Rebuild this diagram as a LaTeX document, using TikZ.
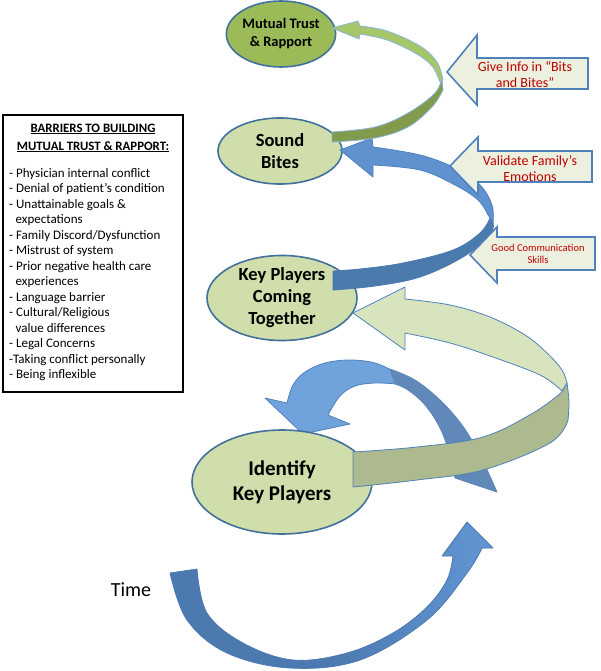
\documentclass[tikz,border=0pt]{standalone}
\usepackage{fontspec}
\setmainfont{Carlito}
\usetikzlibrary{shapes.geometric}
\definecolor{stageedge}{RGB}{65,113,156}
\definecolor{stagefill}{RGB}{207,222,170}
\definecolor{trustfill}{RGB}{155,187,89}
\definecolor{tipfill}{RGB}{235,241,222}
\definecolor{tipedge}{RGB}{79,129,189}
\definecolor{tipred}{RGB}{192,0,0}
\definecolor{bandlight}{RGB}{215,228,189}
\definecolor{bandolive}{RGB}{173,185,142}
\definecolor{bluedark}{RGB}{75,122,172}
\definecolor{bluemid}{RGB}{95,146,207}
\definecolor{curllight}{RGB}{112,163,220}
\definecolor{curldark}{RGB}{96,137,186}
\definecolor{timedark}{RGB}{76,122,176}
\definecolor{timelight}{RGB}{98,150,212}
\definecolor{greenup}{RGB}{166,198,106}
\definecolor{greenlow}{RGB}{128,155,75}
\definecolor{greenedge}{RGB}{141,179,226}

\begin{document}
\begin{tikzpicture}[x=1pt,y=-1pt,
  stage/.style={ellipse,draw=stageedge,line width=1.6pt,fill=stagefill,inner sep=0pt,align=center,font=\bfseries},
  tipbox/.style={draw=tipedge,line width=1.6pt,fill=tipfill},
  tiptext/.style={text=tipred,align=center,inner sep=0pt},
  ribbon/.style={line width=0.8pt,line join=round},
  sm/.style={smooth,tension=0.6}]
  \useasboundingbox (0,0) rectangle (600,671);

  % barriers box
  \node[draw,line width=1.6pt,minimum width=180pt,minimum height=277pt] (barriers) at (93,253.5) {};
  \node[font=\bfseries\fontsize{12.8}{18}\selectfont,align=center] (bartitle) at (93,138)
    {\underline{BARRIERS TO BUILDING}\\\underline{MUTUAL TRUST \& RAPPORT:}};
  \node[anchor=north west,align=left,inner sep=0pt,font=\fontsize{13}{15.5}\selectfont] (barlist) at (9,168)
    {- Physician internal conflict\\
     - Denial of patient’s condition\\
     - Unattainable goals \&\\
     \hspace*{6.5pt}expectations\\
     - Family Discord/Dysfunction\\
     - Mistrust of system\\
     - Prior negative health care\\
     \hspace*{6.5pt}experiences\\
     - Language barrier\\
     - Cultural/Religious\\
     \hspace*{6.5pt}value differences\\
     - Legal Concerns\\
     -Taking conflict personally\\
     - Being inflexible};

  % time arrow
  \path[ribbon,draw=timedark,left color=timedark,right color=timelight,middle color=timedark]
    plot[sm] coordinates {(170,573) (187,620) (227,653) (290,668) (360,660) (427,620) (467,573) (482,548)}
    -- (493,548) -- (467,522) -- (442,556)
    -- plot[sm] coordinates {(453,556) (447,580) (427,607) (393,633) (347,653) (293,660) (243,643) (207,613) (197,569)}
    -- cycle;
  \node[font=\fontsize{20}{24}\selectfont] (time) at (131,590) {Time};

  % curl over identify
  \filldraw[ribbon,draw=tipedge,fill=curllight]
    plot[sm] coordinates {(287,403) (293,385) (305,372) (325,363) (350,360) (375,363) (395,372)}
    -- plot[sm] coordinates {(397,384) (375,383) (355,386) (340,396) (328,415)}
    -- (350,424) -- (303,434) -- (265,398) -- cycle;
  \filldraw[ribbon,draw=curldark,fill=curldark]
    plot[sm] coordinates {(390,369) (415,380) (440,400) (462,425) (480,455) (497,492)}
    -- plot[sm] coordinates {(455,478) (450,455) (440,428) (425,405) (408,390) (395,384)}
    -- cycle;

  % stages
  \node[stage,fill=trustfill,minimum width=98pt,minimum height=66pt,font=\bfseries\fontsize{14.5}{18}\selectfont] (trust) at (281,34) {Mutual Trust\\\& Rapport};
  \node[stage,minimum width=124pt,minimum height=66pt,font=\bfseries\fontsize{18.5}{22}\selectfont] (sound) at (280,151) {Sound\\Bites};
  \node[stage,minimum width=150pt,minimum height=76pt,font=\bfseries\fontsize{18.5}{22}\selectfont] (together) at (282,298) {Key Players\\Coming\\Together};
  \node[stage,minimum width=180pt,minimum height=104pt,font=\bfseries\fontsize{21}{25}\selectfont] (identify) at (282,482) {Identify\\Key Players};

  % band from identify to together
  \filldraw[ribbon,draw=tipedge,fill=bandolive]
    plot[sm] coordinates {(353,452) (417,447) (483,437) (533,413) (562,392)}
    -- (567,383)
    -- plot[sm] coordinates {(567,383) (569,402) (568,420)}
    -- plot[sm] coordinates {(568,420) (550,443) (483,470) (417,480) (353,487)}
    -- cycle;
  \filldraw[ribbon,draw=tipedge,fill=bandlight]
    plot[sm] coordinates {(405,299) (450,305) (490,317) (525,335) (547,353) (562,370) (567,383)}
    -- plot[sm] coordinates {(562,391) (540,375) (490,356) (450,343) (405,333)}
    -- (405,350) -- (353,313) -- (405,287) -- cycle;

  % band from together to sound
  \filldraw[ribbon,draw=bluedark,fill=bluedark]
    plot[sm] coordinates {(333,271) (360,269) (403,263) (453,250) (480,233) (490,218)}
    -- plot[sm] coordinates {(493,222) (490,235) (463,257) (420,277) (375,286) (333,290)}
    -- cycle;
  \filldraw[ribbon,draw=tipedge,fill=bluemid]
    plot[sm] coordinates {(373,147) (420,155) (455,168) (480,185) (492,205) (493,222)}
    -- plot[sm] coordinates {(488,215) (478,200) (455,185) (420,170) (373,165)}
    -- (373,177) -- (340,150) -- (372,138) -- cycle;

  % band from sound to trust
  \filldraw[ribbon,draw=greenedge,fill=greenlow]
    plot[sm] coordinates {(332,132) (375,127) (408,113) (435,93) (442,77)}
    -- plot[sm] coordinates {(443,90) (432,107) (408,127) (375,138) (332,142)}
    -- cycle;
  \filldraw[ribbon,draw=greenedge,fill=greenup]
    plot[sm] coordinates {(360,26) (387,31) (420,46) (437,62) (443,80)}
    -- plot[sm] coordinates {(440,82) (432,66) (415,53) (387,40) (360,34)}
    -- (359,39) -- (332,28) -- (358,21) -- cycle;

  % hint arrows
  \filldraw[tipbox] (447,72) -- (477,35) -- (477,58) -- (588,58) -- (588,89) -- (477,89) -- (477,105) -- cycle;
  \node[tiptext,font=\fontsize{14}{16}\selectfont] (infobits) at (525,75) {Give Info in “Bits\\and Bites”};
  \filldraw[tipbox] (450,166) -- (478,137) -- (478,151) -- (592,151) -- (592,182) -- (478,182) -- (478,195) -- cycle;
  \node[tiptext,font=\fontsize{14}{16}\selectfont] (validate) at (530,169) {Validate Family’s\\Emotions};
  \filldraw[tipbox] (470,255) -- (497,227) -- (497,237) -- (595,237) -- (595,270) -- (497,270) -- (497,283) -- cycle;
  \node[tiptext,font=\fontsize{10.5}{12}\selectfont] (goodcomm) at (538,254) {Good Communication\\Skills};
\end{tikzpicture}
\end{document}
